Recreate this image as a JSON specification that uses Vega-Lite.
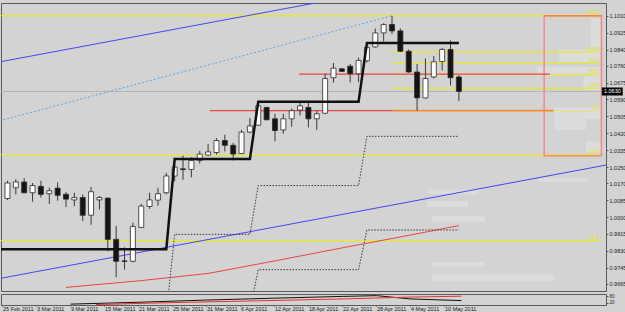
{
"$schema":"https://vega.github.io/schema/vega-lite/v6.json",
"background":"#d3d3d3",
"padding":{"left":0,"top":2,"right":0,"bottom":0},
"spacing":0,
"config":{"view":{"stroke":"#5a5a5a","strokeWidth":1,"fill":"#d3d3d3"},"font":"Liberation Sans","axis":{"labelFont":"Liberation Sans","labelColor":"#1a1a1a","domainColor":"#5a5a5a","tickColor":"#5a5a5a","grid":false,"labelOverlap":false,"labelFlush":false,"labelBound":false}},
"datasets":{
"c":[
{"i":0,"o":1.0093,"h":1.0182,"l":1.0085,"c":1.0171},
{"i":1,"o":1.0147,"h":1.0190,"l":1.0114,"c":1.0176},
{"i":2,"o":1.0176,"h":1.0195,"l":1.0119,"c":1.0122},
{"i":3,"o":1.0122,"h":1.0171,"l":1.0077,"c":1.0158},
{"i":4,"o":1.0154,"h":1.0182,"l":1.0098,"c":1.0114},
{"i":5,"o":1.0117,"h":1.0147,"l":1.0066,"c":1.0132},
{"i":6,"o":1.0145,"h":1.0174,"l":1.0082,"c":1.0109},
{"i":7,"o":1.0114,"h":1.0125,"l":1.0050,"c":1.0090},
{"i":8,"o":1.0086,"h":1.0122,"l":1.0055,"c":1.0098},
{"i":9,"o":1.0098,"h":1.0114,"l":0.9980,"c":1.0009},
{"i":10,"o":1.0009,"h":1.0151,"l":0.9961,"c":1.0127},
{"i":11,"o":1.0086,"h":1.0106,"l":1.0038,"c":1.0098},
{"i":12,"o":1.0095,"h":1.0098,"l":0.9828,"c":0.9888},
{"i":13,"o":0.9888,"h":0.9956,"l":0.9698,"c":0.9778},
{"i":14,"o":0.9780,"h":0.9848,"l":0.9736,"c":0.9777},
{"i":15,"o":0.9778,"h":0.9972,"l":0.9773,"c":0.9953},
{"i":16,"o":0.9948,"h":1.0066,"l":0.9945,"c":1.0055},
{"i":17,"o":1.0053,"h":1.0122,"l":1.0041,"c":1.0086},
{"i":18,"o":1.0085,"h":1.0147,"l":1.0057,"c":1.0117},
{"i":19,"o":1.0122,"h":1.0222,"l":1.0114,"c":1.0206},
{"i":20,"o":1.0206,"h":1.0259,"l":1.0179,"c":1.0251},
{"i":21,"o":1.0242,"h":1.0308,"l":1.0187,"c":1.0238},
{"i":22,"o":1.0239,"h":1.0300,"l":1.0200,"c":1.0284},
{"i":23,"o":1.0284,"h":1.0332,"l":1.0268,"c":1.0316},
{"i":24,"o":1.0311,"h":1.0367,"l":1.0308,"c":1.0327},
{"i":25,"o":1.0324,"h":1.0396,"l":1.0313,"c":1.0384},
{"i":26,"o":1.0384,"h":1.0413,"l":1.0329,"c":1.0360},
{"i":27,"o":1.0360,"h":1.0372,"l":1.0284,"c":1.0316},
{"i":28,"o":1.0319,"h":1.0437,"l":1.0316,"c":1.0426},
{"i":29,"o":1.0426,"h":1.0497,"l":1.0421,"c":1.0457},
{"i":30,"o":1.0461,"h":1.0566,"l":1.0457,"c":1.0558},
{"i":31,"o":1.0550,"h":1.0553,"l":1.0486,"c":1.0488},
{"i":32,"o":1.0493,"h":1.0518,"l":1.0380,"c":1.0434},
{"i":33,"o":1.0437,"h":1.0518,"l":1.0418,"c":1.0493},
{"i":34,"o":1.0493,"h":1.0545,"l":1.0453,"c":1.0534},
{"i":35,"o":1.0537,"h":1.0574,"l":1.0510,"c":1.0558},
{"i":36,"o":1.0550,"h":1.0574,"l":1.0450,"c":1.0493},
{"i":37,"o":1.0493,"h":1.0534,"l":1.0437,"c":1.0518},
{"i":38,"o":1.0521,"h":1.0719,"l":1.0518,"c":1.0695},
{"i":39,"o":1.0699,"h":1.0773,"l":1.0674,"c":1.0747},
{"i":40,"o":1.0744,"h":1.0747,"l":1.0728,"c":1.0731},
{"i":41,"o":1.0757,"h":1.0768,"l":1.0676,"c":1.0719},
{"i":42,"o":1.0719,"h":1.0800,"l":1.0676,"c":1.0786},
{"i":43,"o":1.0784,"h":1.0860,"l":1.0776,"c":1.0852},
{"i":44,"o":1.0854,"h":1.0946,"l":1.0850,"c":1.0924},
{"i":45,"o":1.0924,"h":1.0973,"l":1.0881,"c":1.0966},
{"i":46,"o":1.0966,"h":1.1010,"l":1.0918,"c":1.0934},
{"i":47,"o":1.0934,"h":1.0946,"l":1.0827,"c":1.0832},
{"i":48,"o":1.0832,"h":1.0841,"l":1.0724,"c":1.0728},
{"i":49,"o":1.0728,"h":1.0768,"l":1.0534,"c":1.0598},
{"i":50,"o":1.0598,"h":1.0796,"l":1.0595,"c":1.0695},
{"i":51,"o":1.0703,"h":1.0808,"l":1.0695,"c":1.0779},
{"i":52,"o":1.0781,"h":1.0849,"l":1.0735,"c":1.0841},
{"i":53,"o":1.0841,"h":1.0886,"l":1.0660,"c":1.0699},
{"i":54,"o":1.0703,"h":1.0711,"l":1.0582,"c":1.0630}
],
"step":[
{"i":-1,"p":0.9839},{"i":19,"p":0.9839},{"i":20,"p":1.0291},{"i":29,"p":1.0291},{"i":30,"p":1.0579},{"i":42,"p":1.0579},{"i":43,"p":1.0874},{"i":54,"p":1.0874}
],
"dots":[
{"s":"u","i":19,"p":0.9514},{"s":"u","i":20,"p":0.9913},{"s":"u","i":29,"p":0.9913},{"s":"u","i":30,"p":1.0158},{"s":"u","i":42,"p":1.0158},{"s":"u","i":43,"p":1.0405},{"s":"u","i":54,"p":1.0405},
{"s":"d","i":29,"p":0.9536},{"s":"d","i":30,"p":0.9736},{"s":"d","i":42,"p":0.9736},{"s":"d","i":43,"p":0.9935},{"s":"d","i":54,"p":0.9935}
],
"ma":[
{"i":7,"p":0.9647},{"i":16,"p":0.9681},{"i":24,"p":0.9717},{"i":32,"p":0.9780},{"i":40,"p":0.9845},{"i":48,"p":0.9908},{"i":54,"p":0.9957}
],
"tl":[
{"s":"b1","i":-1,"p":1.0778},{"s":"b1","i":40,"p":1.1099},
{"s":"b2","i":-1,"p":0.9691},{"s":"b2","i":72,"p":1.0264},
{"s":"lb","i":-1,"p":1.0482},{"s":"lb","i":46,"p":1.1010}
],
"hr":[
{"s":"red","i":34.9,"i2":64.9,"p":1.0717},
{"s":"red","i":24.2,"i2":46.1,"p":1.0534},
{"s":"orange","i":46.1,"i2":65.3,"p":1.0534},
{"s":"orange","i":64.2,"i2":71.1,"p":1.1010}
],
"fl":[
{"d":"s","i":-1,"i2":70.8,"p":1.1010},
{"d":"s","i":-1,"i2":70.8,"p":1.0313},
{"d":"s","i":-1,"i2":70.8,"p":0.9882},
{"d":"s","i":46.06,"i2":70.6,"p":1.0828},
{"d":"s","i":46.06,"i2":70.6,"p":1.0772},
{"d":"s","i":46.06,"i2":70.6,"p":1.0716},
{"d":"s","i":46.06,"i2":70.6,"p":1.0646},
{"d":"d","i":65.3,"i2":70.6,"p":1.0534}
],
"fibt":[
{"t":"100.0","p":1.1010},{"t":"61.8","p":1.0828},{"t":"50.0","p":1.0772},{"t":"38.2","p":1.0716},{"t":"23.6","p":1.0646},{"t":"0.0","p":1.0534},{"t":"23.6","p":1.0313},{"t":"38.2","p":0.9882}
],
"box":[{"i":64.2,"i2":71.05,"p":1.1010,"p2":1.0308}],
"vp":[
{"i":66.0,"i2":71,"p":1.0841,"p2":1.0778},
{"i":63.4,"i2":71,"p":1.0753,"p2":1.0710},
{"i":68.9,"i2":71,"p":1.0705,"p2":1.0637},
{"i":65.4,"i2":71,"p":1.0550,"p2":1.0492},
{"i":65.4,"i2":69.2,"p":1.0492,"p2":1.0438},
{"i":69.2,"i2":71,"p":1.0380,"p2":1.0322},
{"i":69.8,"i2":71,"p":1.0995,"p2":1.0850},
{"i":50.4,"i2":56.3,"p":1.0138,"p2":1.0114},
{"i":50.1,"i2":55.1,"p":1.0080,"p2":1.0051},
{"i":50.8,"i2":57.1,"p":1.0003,"p2":0.9978},
{"i":63.4,"i2":69.5,"p":1.0196,"p2":1.0177},
{"i":50.8,"i2":65.4,"p":0.9712,"p2":0.9678},
{"i":50.8,"i2":57.1,"p":0.9775,"p2":0.9751}
],
"last":[{"t":"1.0630","p":1.0630}],
"osc":[
{"s":"k","i":8,"v":8},{"s":"k","i":16,"v":25},{"s":"k","i":24,"v":45},{"s":"k","i":32,"v":62},{"s":"k","i":40,"v":78},{"s":"k","i":44,"v":85},{"s":"k","i":48,"v":55},{"s":"k","i":54,"v":40},
{"s":"r","i":11,"v":4},{"s":"r","i":20,"v":22},{"s":"r","i":30,"v":38},{"s":"r","i":40,"v":55},{"s":"r","i":48,"v":72},{"s":"r","i":54,"v":80}
]
},
"vconcat":[
{
"width":605,"height":288,
"layer":[
{"data":{"name":"vp"},"mark":{"type":"rect","fill":"#ffffff","opacity":0.22},
 "encoding":{"x":{"field":"i","type":"quantitative","scale":{"domain":[-0.176,71.0],"nice":false,"zero":false},"axis":null},"x2":{"field":"i2"},
 "y":{"field":"p","type":"quantitative","title":null,"scale":{"domain":[0.9654,1.1049],"nice":false,"zero":false}},"y2":{"field":"p2"}}},
{"data":{"name":"last"},"mark":{"type":"rule","color":"#b5b5b5","strokeWidth":1},
 "encoding":{"y":{"field":"p","type":"quantitative","title":null,"scale":{"domain":[0.9654,1.1049],"nice":false,"zero":false}}}},
{"data":{"name":"fl"},"transform":[{"filter":"datum.d == 's'"}],"mark":{"type":"rule","color":"#eeee00","strokeWidth":1,"clip":true},
 "encoding":{"x":{"field":"i","type":"quantitative","scale":{"domain":[-0.176,71.0],"nice":false,"zero":false},"axis":null},"x2":{"field":"i2"},
 "y":{"field":"p","type":"quantitative","title":null,"scale":{"domain":[0.9654,1.1049],"nice":false,"zero":false}}}},
{"data":{"name":"fl"},"transform":[{"filter":"datum.d == 'd'"}],"mark":{"type":"rule","color":"#eeee00","strokeWidth":1,"strokeDash":[1.5,1.5],"clip":true},
 "encoding":{"x":{"field":"i","type":"quantitative","scale":{"domain":[-0.176,71.0],"nice":false,"zero":false},"axis":null},"x2":{"field":"i2"},
 "y":{"field":"p","type":"quantitative","title":null,"scale":{"domain":[0.9654,1.1049],"nice":false,"zero":false}}}},
{"data":{"name":"box"},"mark":{"type":"rect","fillOpacity":0,"stroke":"#f08a8a","strokeWidth":1.5,"clip":true},
 "encoding":{"x":{"field":"i","type":"quantitative","scale":{"domain":[-0.176,71.0],"nice":false,"zero":false},"axis":null},"x2":{"field":"i2"},
 "y":{"field":"p","type":"quantitative","title":null,"scale":{"domain":[0.9654,1.1049],"nice":false,"zero":false}},"y2":{"field":"p2"}}},
{"data":{"name":"hr"},"transform":[{"filter":"datum.s == 'red'"}],"mark":{"type":"rule","strokeWidth":1.2,"color":"#e84545","clip":true},
 "encoding":{"x":{"field":"i","type":"quantitative","scale":{"domain":[-0.176,71.0],"nice":false,"zero":false},"axis":null},"x2":{"field":"i2"},
 "y":{"field":"p","type":"quantitative","title":null,"scale":{"domain":[0.9654,1.1049],"nice":false,"zero":false}}}},
{"data":{"name":"hr"},"transform":[{"filter":"datum.s == 'orange'"}],"mark":{"type":"rule","strokeWidth":1.6,"color":"#ff8a2a","clip":true},
 "encoding":{"x":{"field":"i","type":"quantitative","scale":{"domain":[-0.176,71.0],"nice":false,"zero":false},"axis":null},"x2":{"field":"i2"},
 "y":{"field":"p","type":"quantitative","title":null,"scale":{"domain":[0.9654,1.1049],"nice":false,"zero":false}}}},
{"data":{"name":"tl"},"transform":[{"filter":"datum.s != 'lb'"}],"mark":{"type":"line","strokeWidth":1,"color":"#4646ee","clip":true},
 "encoding":{"x":{"field":"i","type":"quantitative","scale":{"domain":[-0.176,71.0],"nice":false,"zero":false},"axis":null},
 "y":{"field":"p","type":"quantitative","title":null,"scale":{"domain":[0.9654,1.1049],"nice":false,"zero":false}},
 "detail":{"field":"s"}}},
{"data":{"name":"tl"},"transform":[{"filter":"datum.s == 'lb'"}],"mark":{"type":"line","strokeWidth":1,"color":"#5aa6ea","strokeDash":[2,2],"clip":true},
 "encoding":{"x":{"field":"i","type":"quantitative","scale":{"domain":[-0.176,71.0],"nice":false,"zero":false},"axis":null},
 "y":{"field":"p","type":"quantitative","title":null,"scale":{"domain":[0.9654,1.1049],"nice":false,"zero":false}}}},
{"data":{"name":"c"},"mark":{"type":"rule","color":"#3a3a3a","strokeWidth":1,"clip":true},
 "encoding":{"x":{"field":"i","type":"quantitative","scale":{"domain":[-0.176,71.0],"nice":false,"zero":false},"axis":null},
 "y":{"field":"l","type":"quantitative","title":null,"scale":{"domain":[0.9654,1.1049],"nice":false,"zero":false}},"y2":{"field":"h"}}},
{"data":{"name":"c"},"mark":{"type":"bar","size":5,"stroke":"#2a2a2a","strokeWidth":0.8,"clip":true},
 "encoding":{"x":{"field":"i","type":"quantitative","scale":{"domain":[-0.176,71.0],"nice":false,"zero":false},"axis":null},
 "y":{"field":"o","type":"quantitative","title":null,"scale":{"domain":[0.9654,1.1049],"nice":false,"zero":false},
  "axis":{"orient":"right","values":[1.1010,1.0925,1.0840,1.0760,1.0675,1.0590,1.0505,1.0420,1.0335,1.0250,1.0170,1.0085,1.0000,0.9915,0.9830,0.9745,0.9665],"tickCount":40,"format":".4f","labelFontSize":5.5,"tickSize":2,"labelPadding":1,"labelBaseline":"middle","labelOverlap":false,"labelFlush":false,"title":null,"grid":false}},
 "y2":{"field":"c"},
 "fill":{"condition":{"test":"datum.c >= datum.o","value":"#ffffff"},"value":"#141414"}}},
{"data":{"name":"ma"},"mark":{"type":"line","color":"#e84545","strokeWidth":1,"clip":true},
 "encoding":{"x":{"field":"i","type":"quantitative","scale":{"domain":[-0.176,71.0],"nice":false,"zero":false},"axis":null},
 "y":{"field":"p","type":"quantitative","title":null,"scale":{"domain":[0.9654,1.1049],"nice":false,"zero":false}}}},
{"data":{"name":"dots"},"mark":{"type":"line","color":"#3a3a3a","strokeWidth":1,"strokeDash":[1.5,1.5],"clip":true},
 "encoding":{"x":{"field":"i","type":"quantitative","scale":{"domain":[-0.176,71.0],"nice":false,"zero":false},"axis":null},
 "y":{"field":"p","type":"quantitative","title":null,"scale":{"domain":[0.9654,1.1049],"nice":false,"zero":false}},"detail":{"field":"s"}}},
{"data":{"name":"step"},"mark":{"type":"line","color":"#111111","strokeWidth":2.5,"clip":true},
 "encoding":{"x":{"field":"i","type":"quantitative","scale":{"domain":[-0.176,71.0],"nice":false,"zero":false},"axis":null},
 "y":{"field":"p","type":"quantitative","title":null,"scale":{"domain":[0.9654,1.1049],"nice":false,"zero":false}}}},
{"data":{"name":"fibt"},"mark":{"type":"text","color":"#e6e600","fontSize":5.5,"align":"right","baseline":"bottom","dy":-0.5},
 "encoding":{"x":{"datum":70.85,"type":"quantitative","scale":{"domain":[-0.176,71.0],"nice":false,"zero":false},"axis":null},
 "y":{"field":"p","type":"quantitative","title":null,"scale":{"domain":[0.9654,1.1049],"nice":false,"zero":false}},"text":{"field":"t"}}},
{"data":{"name":"last"},"mark":{"type":"bar","color":"#000000","size":8,"clip":false,"orient":"horizontal"},
 "encoding":{"x":{"datum":71.1,"type":"quantitative","scale":{"domain":[-0.176,71.0],"nice":false,"zero":false},"axis":null},"x2":{"datum":73.6},
 "y":{"field":"p","type":"quantitative","title":null,"scale":{"domain":[0.9654,1.1049],"nice":false,"zero":false}}}},
{"data":{"name":"last"},"mark":{"type":"text","color":"#ffffff","fontSize":5.5,"align":"left","baseline":"middle","clip":false},
 "encoding":{"x":{"datum":71.35,"type":"quantitative","scale":{"domain":[-0.176,71.0],"nice":false,"zero":false},"axis":null},
 "y":{"field":"p","type":"quantitative","title":null,"scale":{"domain":[0.9654,1.1049],"nice":false,"zero":false}},"text":{"field":"t"}}}
]
},
{
"width":605,"height":11,
"layer":[
{"data":{"name":"osc"},"transform":[{"filter":"datum.s == 'k'"}],"mark":{"type":"line","strokeWidth":1,"color":"#111111","clip":true},
 "encoding":{"x":{"field":"i","type":"quantitative","title":null,"scale":{"domain":[-0.176,71.0],"nice":false,"zero":false},
  "axis":{"values":[0,4,8,12,16,20,24,28,32,36,40,44,48,52],"tickCount":40,"labelExpr":"['25 Feb 2011','3 Mar 2011','9 Mar 2011','15 Mar 2011','21 Mar 2011','25 Mar 2011','31 Mar 2011','6 Apr 2011','12 Apr 2011','18 Apr 2011','22 Apr 2011','28 Apr 2011','4 May 2011','10 May 2011'][datum.value/4]","labelAlign":"left","labelFontSize":5.5,"tickSize":1,"labelPadding":0,"labelBaseline":"top","labelOverlap":false,"labelFlush":false,"title":null}},
 "y":{"field":"v","type":"quantitative","title":null,"scale":{"domain":[0,100],"nice":false,"zero":false},"axis":{"orient":"right","values":[20,80],"tickCount":10,"labelFontSize":4.5,"tickSize":2,"labelPadding":1,"labelOverlap":false,"labelFlush":false,"title":null}}}},
{"data":{"name":"osc"},"transform":[{"filter":"datum.s == 'r'"}],"mark":{"type":"line","strokeWidth":1,"color":"#e83030","clip":true},
 "encoding":{"x":{"field":"i","type":"quantitative","title":null,"scale":{"domain":[-0.176,71.0],"nice":false,"zero":false}},
 "y":{"field":"v","type":"quantitative","title":null,"scale":{"domain":[0,100],"nice":false,"zero":false}}}}
]
}
]
}
